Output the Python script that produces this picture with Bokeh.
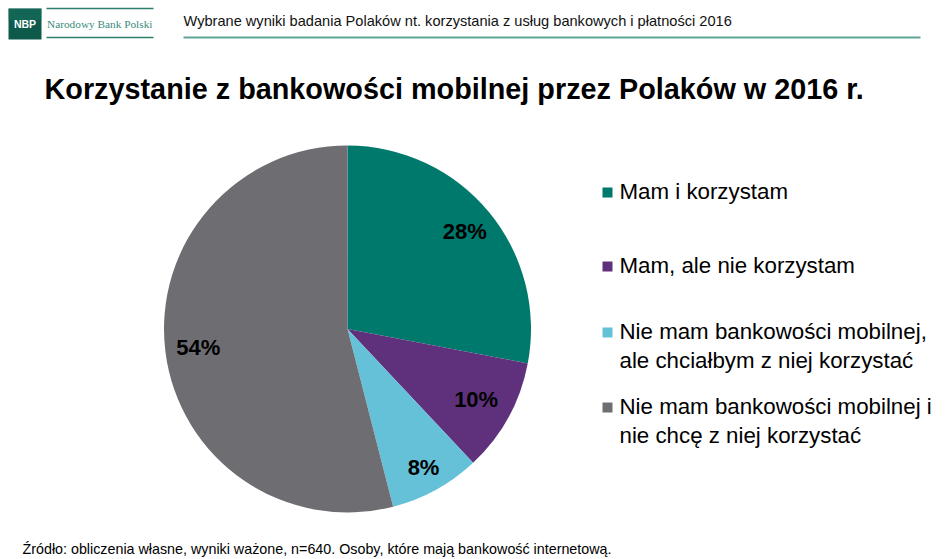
import numpy as np
from bokeh.plotting import figure
from bokeh.models import Range1d
from bokeh.core.properties import value
from bokeh.embed import file_html
from bokeh.resources import INLINE

# ---- data ----
categories = ["Mam i korzystam",
              "Mam, ale nie korzystam",
              "Nie mam bankowości mobilnej,\nale chciałbym z niej korzystać",
              "Nie mam bankowości mobilnej i\nnie chcę z niej korzystać"]
shares = [28, 10, 8, 54]
colors = ["#00796D", "#5F317D", "#65C1D7", "#6E6D72"]
title = "Korzystanie z bankowości mobilnej przez Polaków w 2016 r."
header = "Wybrane wyniki badania Polaków nt. korzystania z usług bankowych i płatności 2016"
source = "Źródło: obliczenia własne, wyniki ważone, n=640. Osoby, które mają bankowość internetową."

W, H = 945, 559
def Y(yp):
    return H - yp

p = figure(width=W, height=H, output_backend="svg", toolbar_location=None,
           x_range=Range1d(0, W), y_range=Range1d(0, H),
           min_border=0)
p.axis.visible = False
p.grid.visible = False
p.outline_line_color = None
p.background_fill_color = "white"
p.border_fill_color = "white"

FONT = value("Liberation Sans")

# ---- header ----
p.quad(left=[8], right=[41], top=[Y(8)], bottom=[Y(39)], fill_color="#0E5A4A", line_color=None)
p.quad(left=[8], right=[41], top=[Y(8)], bottom=[Y(20)], fill_color="#1A7563", line_color=None, fill_alpha=0.45)
p.text(x=[24.5], y=[Y(23.5)], text=["NBP"], text_color="white", text_font=FONT,
       text_font_style="bold", text_font_size="10.5px", text_align="center", text_baseline="middle")
p.segment(x0=[46, 46], x1=[153, 153], y0=[Y(8), Y(37)], y1=[Y(8), Y(37)], line_color="#2E7D6D", line_width=1.5)
p.text(x=[46.5], y=[Y(23)], text=["Narodowy Bank Polski"], text_color="#3A8A7B",
       text_font=value("Liberation Serif"), text_font_size="11.3px", text_baseline="middle")
p.text(x=[183], y=[Y(20)], text=[header], text_color="#111111", text_font=FONT,
       text_font_size="14.6px", text_baseline="middle")
p.segment(x0=[183], x1=[920], y0=[Y(37)], y1=[Y(37)], line_color="#5FA597", line_width=2)

# ---- title ----
p.text(x=[44], y=[Y(88)], text=[title], text_color="black", text_font=FONT,
       text_font_style="bold", text_font_size="28.8px", text_baseline="middle")

# ---- pie ----
cx, cy, R = 347, Y(328.5), 183.5
vals = np.array(shares, dtype=float)
frac = vals / vals.sum()
cum = np.concatenate([[0], np.cumsum(frac)])
start = np.pi / 2 - cum[:-1] * 2 * np.pi
end = np.pi / 2 - cum[1:] * 2 * np.pi
p.wedge(x=cx, y=cy, radius=R, start_angle=start, end_angle=end, direction="clock",
        fill_color=colors, line_color=None)
mid = (start + end) / 2
lr = np.array([0.83, 0.80, 0.86, 0.82]) * R
lx = cx + lr * np.cos(mid)
ly = cy + lr * np.sin(mid)
p.text(x=lx, y=ly, text=[f"{int(v)}%" for v in shares], text_color="black", text_font=FONT,
       text_font_style="bold", text_font_size="22px", text_align="center", text_baseline="middle")

# ---- legend ----
leg_y = [191, 265, 331, 406]
line_gap = 29
sq_x = 607
p.rect(x=[sq_x] * 4, y=[Y(v + 1) for v in leg_y], width=10, height=10, fill_color=colors, line_color=None)
tx, ty, tt = [], [], []
for cat, y0 in zip(categories, leg_y):
    for i, line in enumerate(cat.split("\n")):
        tx.append(619)
        ty.append(Y(y0 + i * line_gap))
        tt.append(line)
p.text(x=tx, y=ty, text=tt, text_color="black", text_font=FONT,
       text_font_size="22.3px", text_baseline="middle")

# ---- source ----
p.text(x=[22], y=[Y(548)], text=[source], text_color="black", text_font=FONT,
       text_font_size="14.3px", text_baseline="middle")

open("out.html", "w").write(file_html(p, INLINE))
